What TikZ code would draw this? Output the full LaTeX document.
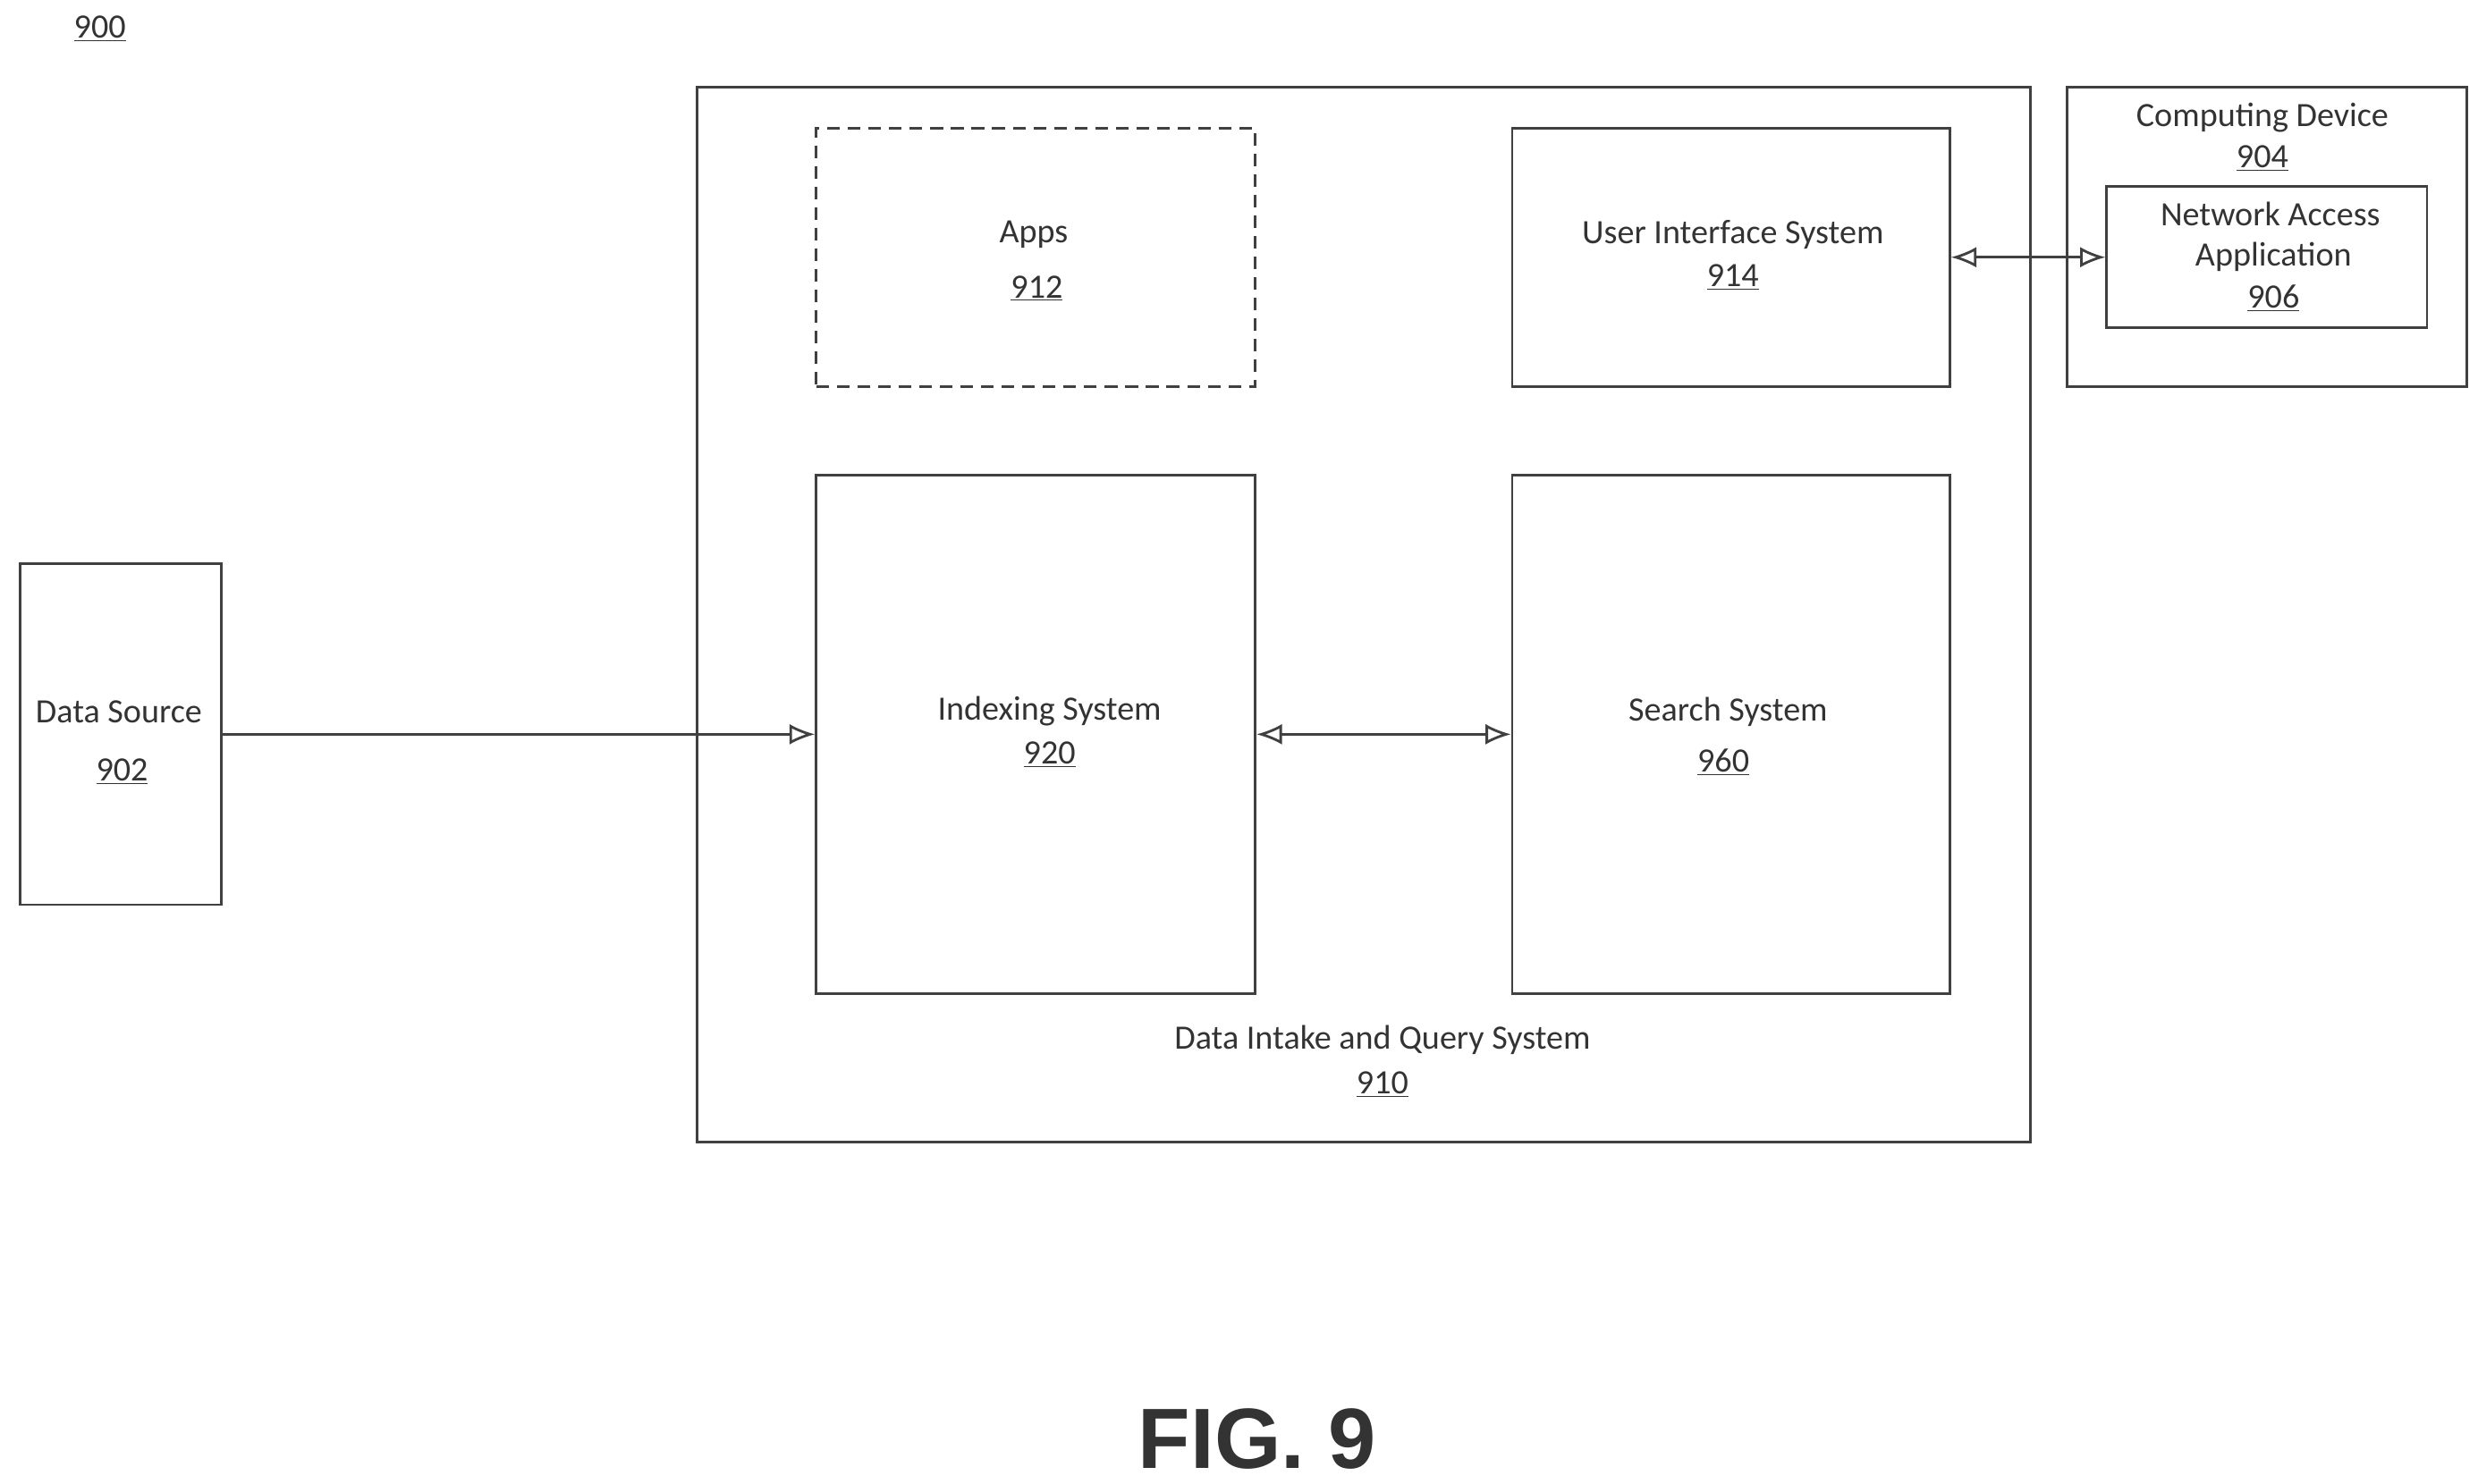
\documentclass[tikz,border=0pt]{standalone}
\usepackage{fontspec}
\setmainfont{Carlito}
\newfontfamily\figfont{Liberation Sans}
\usetikzlibrary{arrows.meta}
\begin{document}
\begin{tikzpicture}[x=1pt,y=-1pt,
  box/.style={draw=black!75,line width=1.6pt,inner sep=0pt,anchor=north west},
  lbl/.style={font=\fontsize{21.5}{24}\selectfont,text=black!80,inner sep=0pt},
  arr/.style={draw=black!75,line width=1.6pt,-{Latex[length=16pt,width=13pt,open]}},
  darr/.style={arr,{Latex[length=16pt,width=13pt,open]}-{Latex[length=16pt,width=13pt,open]}}]
\useasboundingbox (0,0) rectangle (1563,936);
\newcommand{\ul}[1]{\underline{#1}}
\node[lbl] (n900) at (63,18) {\ul{900}};
\node[box,minimum width=127pt,minimum height=215pt] (ds) at (12,355) {};
\node[lbl] (dst) at (75,449) {Data Source};
\node[lbl] (dsn) at (77,487) {\ul{902}};
\node[box,minimum width=841pt,minimum height=666pt] (dq) at (439,54) {};
\node[lbl] (dqt) at (872,656) {Data Intake and Query System};
\node[lbl] (dqn) at (872,684) {\ul{910}};
\node[box,dash pattern=on 8pt off 5pt,minimum width=277pt,minimum height=163pt] (apps) at (514,80) {};
\node[lbl] (appt) at (652,148) {Apps};
\node[lbl] (appn) at (654,182) {\ul{912}};
\node[box,minimum width=276pt,minimum height=163pt] (ui) at (953,80) {};
\node[lbl] (uit) at (1093,148) {User Interface System};
\node[lbl] (uin) at (1093,175) {\ul{914}};
\node[box,minimum width=252pt,minimum height=189pt] (cd) at (1303,54) {};
\node[lbl] (cdt) at (1427,74) {Computing Device};
\node[lbl] (cdn) at (1427,100) {\ul{904}};
\node[box,minimum width=202pt,minimum height=89pt] (na) at (1328,117) {};
\node[lbl] (nat) at (1432,135) {Network Access};
\node[lbl] (nat2) at (1434,162) {Application};
\node[lbl] (nan) at (1434,188) {\ul{906}};
\node[box,minimum width=277pt,minimum height=327pt] (idx) at (514,299) {};
\node[lbl] (idxt) at (662,449) {Indexing System};
\node[lbl] (idxn) at (662,476) {\ul{920}};
\node[box,minimum width=276pt,minimum height=327pt] (ss) at (953,299) {};
\node[lbl] (sst) at (1090,449) {Search System};
\node[lbl] (ssn) at (1087,481) {\ul{960}};
\node[font=\figfont\bfseries\fontsize{54}{60}\selectfont,text=black!80,inner sep=0pt] (fig) at (793,908) {FIG. 9};
\draw[arr] (ds.east) -- (idx.west);
\draw[darr] (idx.east) -- (ss.west);
\draw[darr] (ui.east) -- (na.west);
\end{tikzpicture}
\end{document}
